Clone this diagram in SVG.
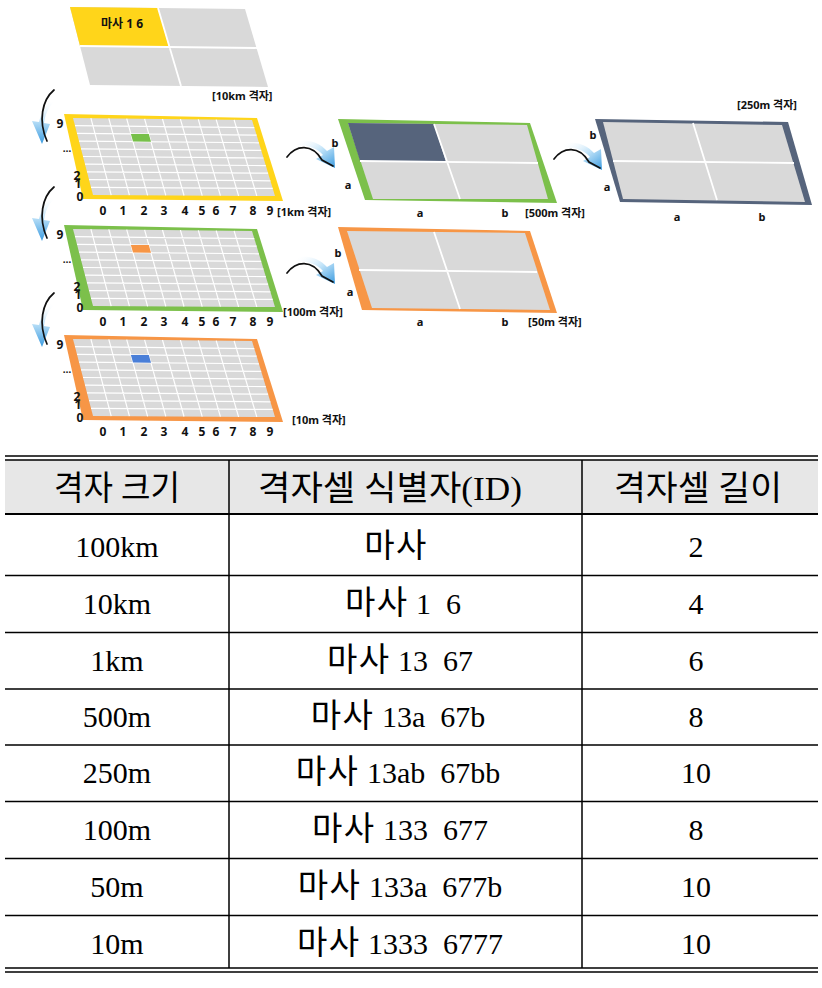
<svg xmlns="http://www.w3.org/2000/svg" xmlns:xlink="http://www.w3.org/1999/xlink" width="822" height="988" viewBox="0 0 822 988">
<style>
.cell{fill:#D9D9D9}
.wl{stroke:#FFFFFF;stroke-width:1.2;fill:none}
.wl2{stroke:#FFFFFF;stroke-width:1.8;fill:none}
.ax{font-family:"Noto Sans","Noto Sans CJK KR",sans-serif;font-weight:bold;font-size:12px;fill:#111}
.lb{font-family:"Noto Sans","Noto Sans CJK KR",sans-serif;font-weight:bold;font-size:11px;fill:#111}
.th{font-family:"Liberation Serif","Noto Sans CJK KR",serif;font-size:34px;fill:#000;text-anchor:middle}
.td{font-family:"Liberation Serif","Noto Sans CJK KR",serif;font-size:30px;fill:#000;text-anchor:middle}
.ko{font-size:33px;letter-spacing:1.5px}
.tl{stroke:#000;stroke-width:1.5;fill:none}
.tk{stroke:#000;stroke-width:2.2;fill:none}
.blk{stroke:#111;stroke-width:1.7;fill:none;stroke-linecap:round}
</style>
<defs>
<linearGradient id="gDown" x1="0" y1="0" x2="0" y2="1">
<stop offset="0" stop-color="#FFFFFF" stop-opacity="0"/>
<stop offset="0.45" stop-color="#BFE2F8"/>
<stop offset="1" stop-color="#3A9BE0"/>
</linearGradient>
<linearGradient id="gRight" x1="0" y1="0" x2="1" y2="1">
<stop offset="0" stop-color="#FFFFFF" stop-opacity="0"/>
<stop offset="0.5" stop-color="#BFE2F8"/>
<stop offset="1" stop-color="#3A9BE0"/>
</linearGradient>
<polygon id="b10" points="64,114 257,118 283,201 83,199"/>
<g id="g10">
<polygon class="cell" points="73,118 252,120 275,196 93,195"/>
<path class="wl" d="M90.9,118.2L111.2,195.1M108.8,118.4L129.4,195.2M126.7,118.6L147.6,195.3M144.6,118.8L165.8,195.4M162.5,119L184,195.5M180.4,119.2L202.2,195.6M198.3,119.4L220.4,195.7M216.2,119.6L238.6,195.8M234.1,119.8L256.8,195.9M75,125.7L254.3,127.6M77,133.4L256.6,135.2M79,141.1L258.9,142.8M81,148.8L261.2,150.4M83,156.5L263.5,158M85,164.2L265.8,165.6M87,171.9L268.1,173.2M89,179.6L270.4,180.8M91,187.3L272.7,188.4"/>
<text class="ax" x="60" y="128" text-anchor="middle">9</text>
<text class="ax" x="67" y="152" text-anchor="middle" style="font-size:10px">…</text>
<text class="ax" x="77" y="180" text-anchor="middle">2</text>
<text class="ax" x="78" y="188" text-anchor="middle">1</text>
<text class="ax" x="80" y="201" text-anchor="middle">0</text>
<text class="ax" x="103" y="215" text-anchor="middle">0</text>
<text class="ax" x="123" y="215" text-anchor="middle">1</text>
<text class="ax" x="144" y="215" text-anchor="middle">2</text>
<text class="ax" x="164" y="215" text-anchor="middle">3</text>
<text class="ax" x="185" y="215" text-anchor="middle">4</text>
<text class="ax" x="202" y="215" text-anchor="middle">5</text>
<text class="ax" x="216" y="215" text-anchor="middle">6</text>
<text class="ax" x="233" y="215" text-anchor="middle">7</text>
<text class="ax" x="253" y="215" text-anchor="middle">8</text>
<text class="ax" x="270" y="215" text-anchor="middle">9</text>
</g>
<polygon id="c10" points="130.9,133.9 148.8,134.1 151,141.8 133,141.6"/>
<g id="arrD">
<path d="M51,100 C45,106 41,114 39,122 L32,121 L42,144 L50,124 L44,123 C45,115 48,108 53,103 Z" fill="url(#gDown)"/>
<path class="blk" d="M54,90 C42,100 38,121 47,141"/>
</g>
<g id="arrR">
<path d="M297,141 C309,139 320,143 327,151 L334,147 L335,168 L316,159 L323,155 C317,148 308,145 297,145 Z" fill="url(#gRight)"/>
<path class="blk" d="M287,157 C296,145 312,143 322,160 L333,166"/>
</g>
</defs>

<g id="node-10km">
<polygon class="cell" points="70,7 245,9 268,87 90,85"/>
<polygon fill="#FFD51A" points="70,7 158,8 169,47 80,46"/>
<path class="wl2" d="M158,8L181,86M80,46L257,48"/>
<text class="lb" x="122" y="28" text-anchor="middle" style="font-size:12px">마사 1 6</text>
<text class="lb" x="212" y="100">[10km 격자]</text>
</g>

<g id="node-1km">
<use xlink:href="#b10" fill="#FFD51A"/>
<use xlink:href="#g10"/>
<use xlink:href="#c10" fill="#77C04A"/>
<text class="lb" x="277" y="216">[1km 격자]</text>
</g>

<g id="node-100m" transform="translate(0,111)">
<use xlink:href="#b10" fill="#7CC04B"/>
<use xlink:href="#g10"/>
<use xlink:href="#c10" fill="#F79646"/>
<text class="lb" x="283" y="205">[100m 격자]</text>
</g>

<g id="node-10m" transform="translate(0,221)">
<use xlink:href="#b10" fill="#F79646"/>
<use xlink:href="#g10"/>
<use xlink:href="#c10" fill="#4A7FD8"/>
<text class="lb" x="292" y="203">[10m 격자]</text>
</g>

<g id="node-500m">
<polygon fill="#7CC04B" points="338,119 530,123 557,203 365,200"/>
<polygon class="cell" points="348,123 527,125 548,199 373,199"/>
<polygon fill="#56647C" points="348,123 434,124 446,162 360,161"/>
<path class="wl2" d="M434,124L460,199M360,161L538,163"/>
<text class="lb" x="335" y="147" text-anchor="middle">b</text>
<text class="lb" x="348" y="189" text-anchor="middle">a</text>
<text class="lb" x="420" y="217" text-anchor="middle">a</text>
<text class="lb" x="505" y="217" text-anchor="middle">b</text>
<text class="lb" x="525" y="217">[500m 격자]</text>
</g>

<g id="node-250m">
<polygon fill="#56647C" points="595,119 788,122 812,205 620,202"/>
<polygon class="cell" points="603,122 782,125 805,202 623,199"/>
<path class="wl2" d="M693,123L717,200M613,161L794,163"/>
<text class="lb" x="593" y="139" text-anchor="middle">b</text>
<text class="lb" x="607" y="191" text-anchor="middle">a</text>
<text class="lb" x="677" y="221" text-anchor="middle">a</text>
<text class="lb" x="762" y="221" text-anchor="middle">b</text>
<text class="lb" x="737" y="109">[250m 격자]</text>
</g>

<g id="node-50m">
<polygon fill="#F79646" points="338,227 530,231 557,313 362,310"/>
<polygon class="cell" points="347,231 525,233 550,310 372,308"/>
<path class="wl2" d="M434,232L460,309M359,270L537,272"/>
<text class="lb" x="338" y="257" text-anchor="middle">b</text>
<text class="lb" x="350" y="296" text-anchor="middle">a</text>
<text class="lb" x="420" y="326" text-anchor="middle">a</text>
<text class="lb" x="505" y="326" text-anchor="middle">b</text>
<text class="lb" x="528" y="326">[50m 격자]</text>
</g>

<g id="connectors">
<use xlink:href="#arrD"/>
<use xlink:href="#arrD" transform="translate(0,97)"/>
<use xlink:href="#arrD" transform="translate(0,203)"/>
<use xlink:href="#arrR"/>
<use xlink:href="#arrR" transform="translate(267,2)"/>
<use xlink:href="#arrR" transform="translate(0,116)"/>
</g>

<g id="table">
<rect x="5" y="460" width="813" height="54" fill="#E7E7E7"/>
<path class="tl" d="M5,456H818M5,460H818"/>
<path class="tk" d="M5,514H818"/>
<path class="tl" d="M5,575.5H818M5,632.5H818M5,689H818M5,745H818M5,801.5H818M5,858.5H818M5,915.5H818"/>
<path class="tl" d="M5,968H818M5,972H818"/>
<path class="tl" d="M229,460V968M582,460V968"/>
<text class="th" x="117" y="500" textLength="126" lengthAdjust="spacingAndGlyphs">격자 크기</text>
<text class="th" x="390" y="500" textLength="264" lengthAdjust="spacingAndGlyphs">격자셀 식별자(ID)</text>
<text class="th" x="698" y="500" textLength="168" lengthAdjust="spacingAndGlyphs">격자셀 길이</text>

<text class="td" x="117" y="557">100km</text>
<text class="td" x="396" y="557"><tspan class="ko">마사</tspan></text>
<text class="td" x="696" y="557">2</text>

<text class="td" x="117" y="614">10km</text>
<text class="td" x="403" y="614"><tspan class="ko">마사</tspan> 1&#160; 6</text>
<text class="td" x="696" y="614">4</text>

<text class="td" x="117" y="671">1km</text>
<text class="td" x="400" y="671"><tspan class="ko">마사</tspan> 13&#160; 67</text>
<text class="td" x="696" y="671">6</text>

<text class="td" x="117" y="727">500m</text>
<text class="td" x="398" y="727"><tspan class="ko">마사</tspan> 13a&#160; 67b</text>
<text class="td" x="696" y="727">8</text>

<text class="td" x="117" y="783">250m</text>
<text class="td" x="398" y="783"><tspan class="ko">마사</tspan> 13ab&#160; 67bb</text>
<text class="td" x="696" y="783">10</text>

<text class="td" x="117" y="840">100m</text>
<text class="td" x="400" y="840"><tspan class="ko">마사</tspan> 133&#160; 677</text>
<text class="td" x="696" y="840">8</text>

<text class="td" x="117" y="897">50m</text>
<text class="td" x="400" y="897"><tspan class="ko">마사</tspan> 133a&#160; 677b</text>
<text class="td" x="696" y="897">10</text>

<text class="td" x="117" y="954">10m</text>
<text class="td" x="400" y="954"><tspan class="ko">마사</tspan> 1333&#160; 6777</text>
<text class="td" x="696" y="954">10</text>
</g>
</svg>
